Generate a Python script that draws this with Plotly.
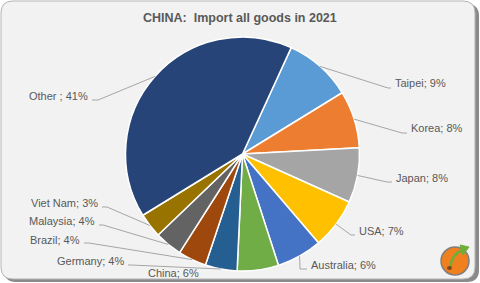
import math
import plotly.graph_objects as go

# ---- data ----
labels = ["Taipei", "Korea", "Japan", "USA", "Australia", "China",
          "Germany", "Brazil", "Malaysia", "Viet Nam", "Other "]
values = [9.4, 7.9, 7.6, 7.0, 6.3, 5.7, 4.4, 3.9, 3.8, 3.4, 40.6]
label_texts = ["Taipei; 9%", "Korea; 8%", "Japan; 8%", "USA; 7%", "Australia; 6%",
               "China; 6%", "Germany; 4%", "Brazil; 4%", "Malaysia; 4%",
               "Viet Nam; 3%", "Other ; 41%"]
colors = ["#5B9BD5", "#ED7D31", "#A5A5A5", "#FFC000", "#4472C4", "#70AD47",
          "#255E91", "#9E480E", "#636363", "#997300", "#264478"]
title_text = "CHINA:  Import all goods in 2021"

# ---- layout / geometry (pixels) ----
W, H = 480, 283
CX, CY, R = 242.5, 154.0, 117.0
ROTATION = 24.6
FONT = "Liberation Sans, Arial, sans-serif"
TXT = "#595959"

# label placements: (text x, text y, anchor side, elbow point or None)
label_layout = [
    (393, 83, "left", (388, 88)),
    (409, 128, "left", (402, 133)),
    (394, 178, "left", (387, 182)),
    (357, 231, "left", (351, 235)),
    (309, 265, "left", (300, 269)),
    (146, 273, "left", None),
    (126, 261, "right", (131, 265)),
    (82, 240, "right", (89, 243)),
    (97, 221, "right", (103, 225)),
    (100, 203, "right", (107, 207)),
    (90, 96, "right", (98, 100)),
]


def px(x):
    return x / W


def py(y):
    return 1 - y / H


def rrect(x0, y0, x1, y1, r):
    return (f"M{px(x0 + r)},{py(y0)} L{px(x1 - r)},{py(y0)} "
            f"Q{px(x1)},{py(y0)} {px(x1)},{py(y0 + r)} "
            f"L{px(x1)},{py(y1 - r)} Q{px(x1)},{py(y1)} {px(x1 - r)},{py(y1)} "
            f"L{px(x0 + r)},{py(y1)} Q{px(x0)},{py(y1)} {px(x0)},{py(y1 - r)} "
            f"L{px(x0)},{py(y0 + r)} Q{px(x0)},{py(y0)} {px(x0 + r)},{py(y0)} Z")


shapes = [
    dict(type="path", xref="paper", yref="paper", path=rrect(4, 4, 479, 282, 12),
         fillcolor="#8A8A8A", line=dict(width=0), layer="below"),
    dict(type="path", xref="paper", yref="paper", path=rrect(1, 1, 475, 279, 12),
         fillcolor="#F2F2F2", line=dict(color="#B5B5B5", width=1), layer="below"),
]

annotations = [dict(x=px(240), y=py(18), xref="paper", yref="paper", text=f"<b>{title_text}</b>",
                    showarrow=False, font=dict(family=FONT, size=12.5, color=TXT),
                    xanchor="center", yanchor="middle")]

total = sum(values)
cum = 0.0
for i, v in enumerate(values):
    mid = ROTATION + (cum + v / 2) / total * 360.0
    cum += v
    a = math.radians(mid)
    ex, ey = CX + R * math.sin(a), CY - R * math.cos(a)
    tx, ty, side, elbow = label_layout[i]
    annotations.append(dict(x=px(tx), y=py(ty), xref="paper", yref="paper", text=label_texts[i],
                            showarrow=False, font=dict(family=FONT, size=11, color=TXT),
                            xanchor=side, yanchor="middle"))
    if elbow is not None:
        endx = tx - 2 if side == "left" else tx + 2
        path = f"M{px(ex)},{py(ey)} L{px(elbow[0])},{py(elbow[1])} L{px(endx)},{py(elbow[1])}"
        shapes.append(dict(type="path", xref="paper", yref="paper", path=path,
                           line=dict(color="#A6A6A6", width=1), layer="above"))

# logo (bottom right)
shapes += [
    dict(type="circle", xref="paper", yref="paper", x0=px(441), x1=px(469), y0=py(275), y1=py(247),
         fillcolor="#F07F1E", line=dict(color="#7F7F7F", width=1.5), layer="above"),
    dict(type="path", xref="paper", yref="paper",
         path=f"M{px(450)},{py(268)} Q{px(452)},{py(253)} {px(463)},{py(250)}",
         line=dict(color="#6FAE3A", width=2.5), layer="above"),
    dict(type="path", xref="paper", yref="paper",
         path=f"M{px(460)},{py(245)} L{px(469)},{py(247)} L{px(463)},{py(255)} Z",
         fillcolor="#6FAE3A", line=dict(color="#6FAE3A", width=1), layer="above"),
    dict(type="circle", xref="paper", yref="paper", x0=px(447), x1=px(452), y0=py(270), y1=py(266),
         fillcolor="#7A4A1E", line=dict(width=0), layer="above"),
]

fig = go.Figure(go.Pie(
    labels=labels, values=values, sort=False, direction="clockwise", rotation=ROTATION,
    marker=dict(colors=colors, line=dict(color="white", width=1.5)),
    textinfo="none", showlegend=False,
    domain=dict(x=[px(CX - R), px(CX + R)], y=[py(CY + R), py(CY - R)]),
))

fig.update_layout(width=W, height=H, margin=dict(l=0, r=0, t=0, b=0),
                  paper_bgcolor="white", shapes=shapes, annotations=annotations)
fig.write_html("out.html")
